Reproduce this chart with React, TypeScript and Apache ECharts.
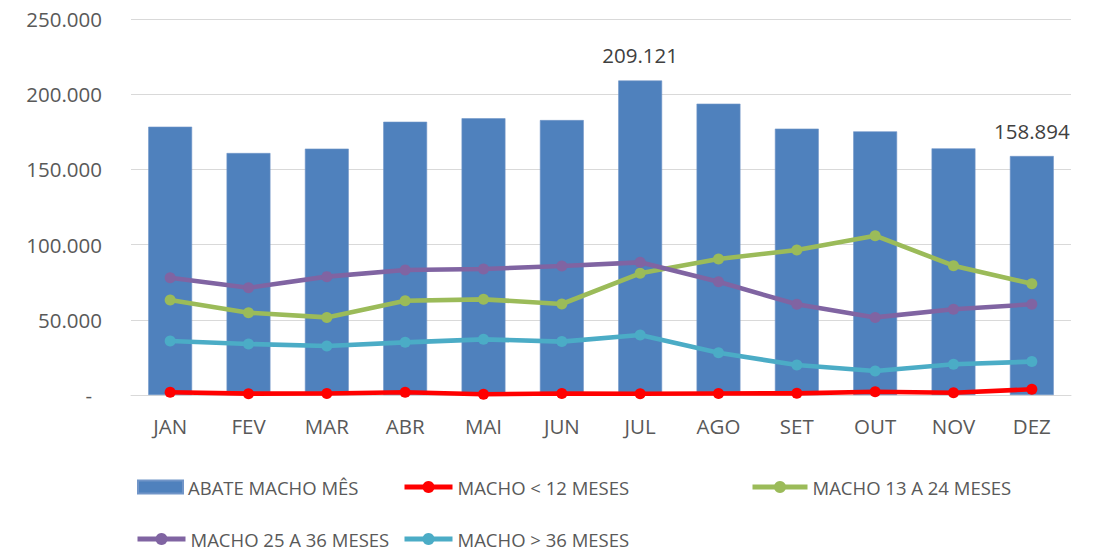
import React, { useEffect, useRef } from "react";
import * as echarts from "echarts";

const months = ["JAN", "FEV", "MAR", "ABR", "MAI", "JUN", "JUL", "AGO", "SET", "OUT", "NOV", "DEZ"];
const abateMachoMes = [178400, 160900, 163800, 181700, 184000, 182800, 209121, 193700, 177100, 175300, 164000, 158894];
const machoAte12 = [1800, 900, 1000, 1800, 500, 1000, 800, 1000, 1100, 2200, 1500, 3800];
const macho13a24 = [63200, 54700, 51600, 62700, 63600, 60500, 80900, 90400, 96400, 105900, 86000, 74000];
const macho25a36 = [78000, 71300, 78700, 83100, 83800, 85800, 88200, 75300, 60300, 51600, 57000, 60300];
const machoAcima36 = [35900, 33900, 32600, 35000, 37000, 35500, 39900, 28100, 19900, 16000, 20400, 22200];
const labeledMonths = ["JUL", "DEZ"];
const yTicks = { min: 0, max: 250000, interval: 50000 };

const FONT = "'Open Sans', sans-serif";

function fmt(v: number): string {
  return String(Math.round(v)).replace(/\B(?=(\d{3})+(?!\d))/g, ".");
}

export default function App() {
  const ref = useRef<HTMLDivElement>(null);
  useEffect(() => {
    if (!ref.current) return;
    const chart = echarts.init(ref.current, null, { renderer: "svg" });
    const barData = abateMachoMes.map((v, i) =>
      labeledMonths.includes(months[i]) ? { value: v, label: { show: true } } : v
    );
    const lineSeries = (name: string, data: number[], color: string) => ({
      name,
      type: "line",
      data,
      symbol: "circle",
      symbolSize: 11,
      itemStyle: { color },
      lineStyle: { color, width: 4.6 },
      z: 3,
    });
    const legendText = { color: "#595959", fontSize: 18.5, fontFamily: FONT, lineHeight: 20 };
    const mkLegend = (name: string, left: number, top: number, w: number, h: number, icon?: string) => ({
      data: [icon ? { name, icon } : name],
      left,
      top,
      padding: 0,
      itemWidth: w,
      itemHeight: h,
      orient: "horizontal",
      textStyle: legendText,
      lineStyle: { width: 5 },
      selectedMode: false,
    });
    chart.setOption({
      animation: false,
      backgroundColor: "#ffffff",
      textStyle: { fontFamily: FONT },
      grid: { left: 131, right: 30, top: 19, bottom: 155 },
      legend: [
        mkLegend("ABATE MACHO MÊS", 137, 477, 45, 13, "rect"),
        mkLegend("MACHO < 12 MESES", 402, 477, 48, 15),
        mkLegend("MACHO 13 A 24 MESES", 750, 477, 55, 15),
        mkLegend("MACHO 25 A 36 MESES", 135, 529, 48, 15),
        mkLegend("MACHO > 36 MESES", 402, 529, 48, 15),
      ],
      xAxis: {
        type: "category",
        data: months,
        axisLine: { show: true, lineStyle: { color: "#d9d9d9", width: 1 } },
        axisTick: { show: false },
        axisLabel: { color: "#595959", fontSize: 20.5, fontFamily: FONT, margin: 20 },
      },
      yAxis: {
        type: "value",
        min: yTicks.min,
        max: yTicks.max,
        interval: yTicks.interval,
        axisLine: { show: false },
        axisTick: { show: false },
        splitLine: { lineStyle: { color: "#d9d9d9", width: 1 } },
        axisLabel: {
          color: "#595959",
          fontSize: 20.5,
          fontFamily: FONT,
          margin: 29,
          formatter: (v: number) => (v === 0 ? "{d|-}" : fmt(v)),
          rich: { d: { color: "#595959", fontSize: 20.5, fontFamily: FONT, padding: [0, 10, 0, 0] } },
        },
      },
      series: [
        {
          name: "ABATE MACHO MÊS",
          type: "bar",
          data: barData,
          barCategoryGap: "44%",
          itemStyle: { color: "#4F81BD", borderColor: "#7195c8", borderWidth: 0.6 },
          label: {
            show: false,
            position: "top",
            distance: 15,
            color: "#404040",
            fontSize: 20.5,
            fontFamily: FONT,
            formatter: (p: any) => fmt(p.value),
          },
          z: 2,
        },
        lineSeries("MACHO < 12 MESES", machoAte12, "#FF0000"),
        lineSeries("MACHO 13 A 24 MESES", macho13a24, "#9BBB59"),
        lineSeries("MACHO 25 A 36 MESES", macho25a36, "#8064A2"),
        lineSeries("MACHO > 36 MESES", machoAcima36, "#4BACC6"),
      ],
    });
    return () => chart.dispose();
  }, []);
  return (
    <div
      ref={ref}
      style={{ position: "fixed", left: 0, top: 0, width: 1101, height: 550, background: "#fff" }}
    />
  );
}
